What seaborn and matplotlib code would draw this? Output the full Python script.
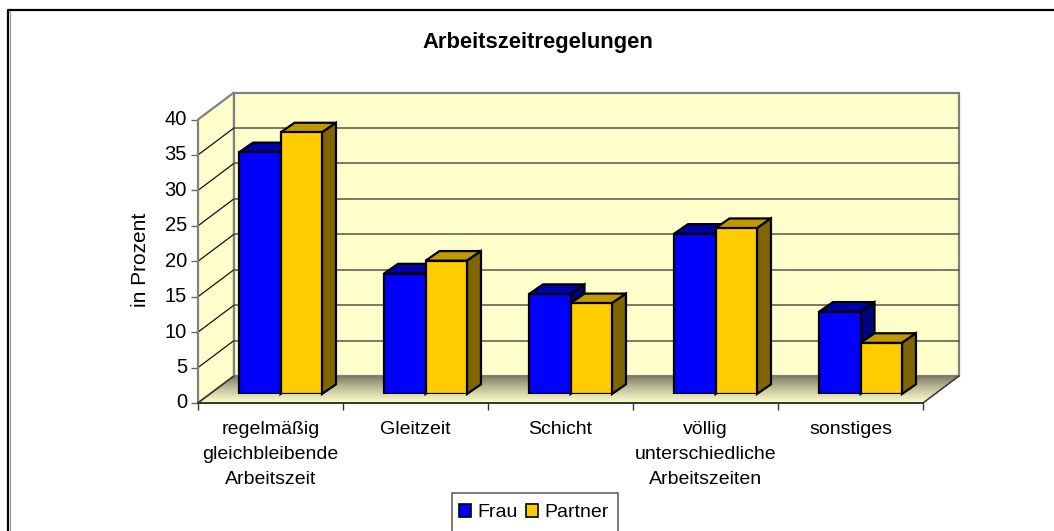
import numpy as np
import pandas as pd
import seaborn as sns
import matplotlib.pyplot as plt
from matplotlib.patches import Polygon, Rectangle
from matplotlib.lines import Line2D
from matplotlib.ticker import FixedLocator
from matplotlib.transforms import ScaledTranslation

categories = ['regelmäßig\ngleichbleibende\nArbeitszeit', 'Gleitzeit', 'Schicht',
              'völlig\nunterschiedliche\nArbeitszeiten', 'sonstiges']
frau = [34.1, 17.0, 14.1, 22.6, 11.6]
partner = [36.9, 18.8, 12.8, 23.4, 7.2]
y_ticks = [0, 5, 10, 15, 20, 25, 30, 35, 40]

W, H = 1054, 531
sns.set_theme(style='white')
plt.rcParams['font.family'] = ['Liberation Sans', 'DejaVu Sans']

df = pd.DataFrame({'cat': categories * 2,
                   'serie': ['Frau'] * 5 + ['Partner'] * 5,
                   'wert': frau + partner})

fig = plt.figure(figsize=(W / 100, H / 100), dpi=100, facecolor='white')


def px_axes(x0, x1, y_top, y_bot):
    a = fig.add_axes([x0 / W, 1 - y_bot / H, (x1 - x0) / W, (y_bot - y_top) / H])
    a.set_xlim(-0.5, 4.5)
    a.set_ylim(0, 40)
    a.patch.set_alpha(0)
    return a


# front plane of the box: ticks, labels, walls
ax = px_axes(198, 923, 119.5, 403)
ux = 725 / 5        # px per category
uy = 283.5 / 40     # px per percent
back = (36 / ux, 27 / uy)
x0, x1 = -0.5, 4.5

# side wall, back wall
ax.add_patch(Polygon([(x0, 0), (x0, 40), (x0 + back[0], 40 + back[1]), (x0 + back[0], back[1])],
                     closed=True, fc='#FFFFCC', ec='#808080', lw=1.6, clip_on=False, zorder=1))
ax.add_patch(Rectangle((x0 + back[0], back[1]), 5, 40, fc='#FFFFCC', ec='#808080', lw=1.6,
                       clip_on=False, zorder=1))

# floor with shading
floor = Polygon([(x0, 0), (x1, 0), (x1 + back[0], back[1]), (x0 + back[0], back[1])],
                closed=True, fc='none', ec='none', transform=ax.transData, clip_on=False, zorder=2)
ax.add_patch(floor)
shade = np.linspace(0, 1, 64)[:, None, None] ** 0.8
dark = np.array([0.44, 0.44, 0.36])
light = np.array([1.0, 1.0, 0.80])
img = dark + (light - dark) * shade
im = ax.imshow(img, extent=(x0, x1 + back[0], 0, back[1]), origin='upper', aspect='auto',
               zorder=2)
im.set_clip_on(True)
im.set_clip_box(fig.bbox)
im.set_clip_path(floor)
ax.set_xlim(x0, x1)
ax.set_ylim(0, 40)

# grid on the walls
for v in y_ticks[1:-1]:
    ax.plot([x0, x0 + back[0]], [v, v + back[1]], color='#111111', lw=0.9, clip_on=False, zorder=2)
    ax.plot([x0 + back[0], x1 + back[0]], [v + back[1]] * 2, color='#55554a', lw=1.1,
            clip_on=False, zorder=2)
ax.plot([x1, x1 + back[0]], [0, back[1]], color='#333333', lw=1.1, clip_on=False, zorder=3)
ax.plot([x0, x0 + back[0]], [0, back[1]], color='#333333', lw=1.1, clip_on=False, zorder=3)

ax.set_xticks(np.arange(-0.5, 5, 1))
ax.xaxis.set_minor_locator(FixedLocator(range(5)))
ax.set_xticklabels([])
ax.set_xticklabels(categories, minor=True, fontsize=14, color='black', linespacing=1.62)
ax.tick_params(axis='x', which='major', length=5, width=1, color='#333333', bottom=True)
ax.tick_params(axis='x', which='minor', length=0, pad=13, bottom=False)
ax.set_yticks(y_ticks)
ax.tick_params(axis='y', length=5, width=1, color='#666666', left=True, labelsize=14.5, pad=3,
               labelcolor='black')
# tick labels sit a little above their ticks
up = ScaledTranslation(0, 2 / 72 * 0.72, fig.dpi_scale_trans)
for lab in ax.get_yticklabels():
    lab.set_transform(lab.get_transform() + up)
ax.set_ylabel('in Prozent', fontsize=15, color='black')
ax.yaxis.set_label_coords(-48 / 725, 0.505)
for s in ['top', 'right']:
    ax.spines[s].set_visible(False)
ax.spines['left'].set_color('#808080')
ax.spines['left'].set_linewidth(1.4)
ax.spines['bottom'].set_color('#333333')
ax.spines['bottom'].set_linewidth(1.4)
ax.set_zorder(1)

# bars sit one third into the box
bx = px_axes(198 + 10, 923 + 10, 119.5 - 9, 403 - 9)
bx.set_zorder(2)
sns.barplot(data=df, x='cat', y='wert', hue='serie', order=categories, ax=bx, width=0.572, gap=0,
            palette={'Frau': '#0000FF', 'Partner': '#FFCC00'}, edgecolor='black', linewidth=1.6,
            saturation=1, legend=False, zorder=5)
bx.set_xlim(-0.5, 4.5)
bx.set_ylim(0, 40)
bx.axis('off')

depth = (14 / ux, 9.7 / uy)
tops = {'#0000FF': '#0000AA', '#FFCC00': '#BF9900'}
sides = {'#0000FF': '#000080', '#FFCC00': '#806600'}
shapes = {0: ('#0000FF', 10), 1: ('#FFCC00', 20)}
bars = bx.patches
for i, p in enumerate(bars):
    col, z = shapes[i // 5]
    z = z + (i % 5)
    xl, xr, h = p.get_x(), p.get_x() + p.get_width(), p.get_height()
    dx, dy = depth
    p.set_zorder(z + 0.5)
    bx.add_patch(Polygon([(xl, h), (xr, h), (xr + dx, h + dy), (xl + dx, h + dy)], closed=True,
                         fc=tops[col], ec='black', lw=1.6, zorder=z, clip_on=False))
    bx.add_patch(Polygon([(xr, 0), (xr, h), (xr + dx, h + dy), (xr + dx, dy)], closed=True,
                         fc=sides[col], ec='black', lw=1.6, zorder=z, clip_on=False))

# chart frame: only top and left edge show
fig.add_artist(Line2D([8 / W, 8 / W, 1], [0, 1 - 10 / H, 1 - 10 / H], color='black', lw=1.6,
                      transform=fig.transFigure))
fig.add_artist(Line2D([9.6 / W, 9.6 / W], [0, 1 - 11 / H], color='#999999', lw=0.8,
                      transform=fig.transFigure))
fig.text(537.5 / W, 1 - 40 / H, 'Arbeitszeitregelungen', ha='center', va='center_baseline',
         fontsize=15.8, fontweight='bold', color='black')

# legend box runs off the bottom of the picture
fig.add_artist(Rectangle((452 / W, -0.02), 166 / W, 1.02 - 493 / H, transform=fig.transFigure,
                         fc='white', ec='#555555', lw=1.1))
handles = [Rectangle((0, 0), 1, 1, fc='#0000FF', ec='black', lw=1.2),
           Rectangle((0, 0), 1, 1, fc='#FFCC00', ec='black', lw=1.2)]
leg = fig.legend(handles, ['Frau', 'Partner'], ncol=2, loc='upper left',
                 bbox_to_anchor=(459 / W, 1 - 504 / H), fontsize=14, frameon=False,
                 handlelength=0.62, handleheight=0.62, handletextpad=0.3,
                 columnspacing=0.45, borderpad=0, borderaxespad=0, labelcolor='black')
leg.set_zorder(5)

fig.savefig('out.png', dpi=100)
